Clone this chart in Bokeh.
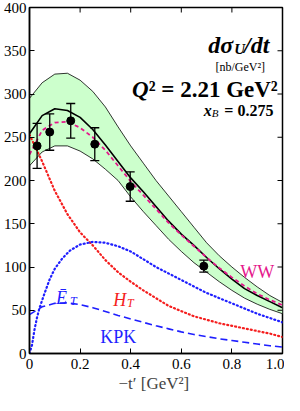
import math
from bokeh.plotting import figure
from bokeh.models import ColumnDataSource, Label, FixedTicker, Range1d
from bokeh.embed import file_html
from bokeh.resources import INLINE

# ---- data ----
t_grid = [0.00, 0.05, 0.10, 0.15, 0.20, 0.25, 0.30, 0.35, 0.40, 0.45, 0.50,
          0.55, 0.60, 0.65, 0.70, 0.75, 0.80, 0.85, 0.90, 0.95, 1.00]
total = [254, 275, 283, 281, 273, 259, 241, 222, 203, 187, 170,
         153, 138, 125, 111, 98, 86, 75, 67, 60, 53]
band_hi = [295, 313, 323, 324, 316, 303, 285, 262, 240, 220, 200,
           182, 164, 146, 128, 113, 100, 88, 77, 67, 59]
band_lo = [217, 233, 240, 240, 234, 225, 213, 200, 181, 164, 148,
           132, 118, 105, 94, 83, 73, 64, 57, 51, 46]
ww = [230, 258, 267, 268, 261, 250, 235, 217, 199, 183, 167,
      151, 137, 124, 111, 99, 88, 78, 69, 62, 56]
h_t = [253, 222, 188, 161, 140, 125, 108, 94, 83, 73, 64,
       55, 49, 43, 39, 35, 32, 29, 26, 23, 19]
kpk = [45, 54, 58, 58.5, 56.5, 53, 48.5, 44, 40, 36, 32,
       28.5, 25, 22, 19.5, 17, 15, 13, 11, 9, 7.5]

t_ebar = [0.0, 0.01, 0.02, 0.03, 0.04, 0.06, 0.08, 0.10, 0.13, 0.16, 0.20,
          0.25, 0.30, 0.35, 0.40, 0.50, 0.60, 0.70, 0.80, 0.90, 1.00]
ebar_t = [0, 10, 28, 42, 53, 70, 86, 98, 110, 119, 126,
          129, 128, 124, 118, 100, 85, 70, 58, 46, 36]

t_data = [0.03, 0.08, 0.163, 0.258, 0.398, 0.689]
sigma_data = [240, 256, 269, 242, 193, 101]
sigma_err = [26, 21, 20, 19, 17, 7]

x_ticks = [0, 0.2, 0.4, 0.6, 0.8, 1.0]
x_tick_labels = ["0", "0.2", "0.4", "0.6", "0.8", "1.0"]
y_ticks = [0, 50, 100, 150, 200, 250, 300, 350, 400]
X_MAX = 1.0
Y_MAX = 400

FONT = "Liberation Serif, serif"
MAGENTA = "#e5198c"
RED = "#f51e1e"
BLUE = "#1f1fff"
GREEN = "#ccffcc"

p = figure(width=284, height=395, x_range=Range1d(0, X_MAX), y_range=Range1d(0, Y_MAX),
           output_backend="svg", toolbar_location=None,
           min_border_left=25, min_border_right=2, min_border_top=7, min_border_bottom=30)
p.grid.grid_line_color = None
p.outline_line_color = "black"
p.outline_line_width = 1.5
p.background_fill_color = "white"
p.border_fill_color = "white"

# band
p.varea(x=t_grid, y1=band_lo, y2=band_hi, fill_color=GREEN, fill_alpha=1.0)
p.line(t_grid, band_hi, line_color="black", line_width=0.8)
p.line(t_grid, band_lo, line_color="black", line_width=0.8)

# components
p.line(t_grid, h_t, line_color=RED, line_width=2.2, line_dash="1 3", line_cap="round")
p.line(t_ebar, ebar_t, line_color=BLUE, line_width=2.2, line_dash="1 3", line_cap="round")
p.line(t_grid, kpk, line_color=BLUE, line_width=1.6, line_dash="7 4")
p.line(t_grid, total, line_color="black", line_width=1.6)
p.line(t_grid, ww, line_color=MAGENTA, line_width=1.8, line_dash="4 3")

# data with error bars
src = ColumnDataSource(dict(x=t_data, y=sigma_data,
                            lo=[v - e for v, e in zip(sigma_data, sigma_err)],
                            hi=[v + e for v, e in zip(sigma_data, sigma_err)]))
p.segment(x0="x", y0="lo", x1="x", y1="hi", source=src, line_color="black", line_width=1.3)
p.scatter(x="x", y="hi", source=src, marker="dash", size=9, line_color="black", line_width=1.3)
p.scatter(x="x", y="lo", source=src, marker="dash", size=9, line_color="black", line_width=1.3)
p.scatter("x", "y", source=src, size=8, color="black")

# mirrored ticks on top and right (half of each dash is clipped by the frame)
p.scatter(x=x_ticks, y=[Y_MAX] * len(x_ticks), marker="dash", angle=math.pi / 2, size=10,
          line_color="black", line_width=1)
p.scatter(x=[X_MAX] * len(y_ticks), y=y_ticks, marker="dash", size=10,
          line_color="black", line_width=1)

# axes
p.xaxis.ticker = FixedTicker(ticks=x_ticks)
p.xaxis.major_label_overrides = {k: v for k, v in zip(x_ticks, x_tick_labels)}
p.yaxis.ticker = FixedTicker(ticks=y_ticks)
for ax in list(p.xaxis) + list(p.yaxis):
    ax.major_tick_in = 5
    ax.major_tick_out = 0
    ax.minor_tick_line_color = None
    ax.axis_line_width = 1.5
    ax.major_tick_line_width = 1
    ax.major_label_text_font = FONT
    ax.major_label_text_font_size = "15px"
    ax.major_label_text_color = "black"
p.xaxis.major_label_standoff = 5
p.yaxis.major_label_standoff = 3
p.xaxis.axis_label = "\u2212t\u2032  [GeV\u00b2]"
p.xaxis.axis_label_text_font = FONT
p.xaxis.axis_label_text_font_size = "17px"
p.xaxis.axis_label_text_font_style = "normal"
p.xaxis.axis_label_standoff = 2


def lab(x, y, text, size, color="black", style="normal", align="left", xo=0):
    p.add_layout(Label(x=x, y=y, text=text, text_font=FONT, text_font_size=f"{size}px",
                       text_color=color, text_font_style=style, text_align=align,
                       text_baseline="alphabetic", x_offset=xo))


# title block
lab(0.805, 357, "d\u03c3", 24, style="bold italic", align="right")
lab(0.805, 352, "U", 15, style="bold italic", align="left", xo=1)
lab(0.848, 357, "/dt", 24, style="bold italic", align="left")
lab(0.833, 331, "[nb/GeV\u00b2]", 12, align="center")
lab(0.471, 305, "Q", 23, style="bold italic", align="right")
lab(0.471, 305, "\u00b2 = 2.21 GeV\u00b2", 23, style="bold", align="left")
lab(0.72, 281, "x", 16, style="bold italic", align="right")
lab(0.72, 277.5, "B", 11, style="italic", align="left")
lab(0.770, 281, "= 0.275", 16, style="bold", align="left")

# curve labels
lab(0.833, 94.6, "WW", 18, color=MAGENTA)
lab(0.105, 64, "\u0112", 18, color=BLUE, style="italic")
lab(0.16, 60.5, "T", 12, color=BLUE, style="italic")
lab(0.331, 62, "H", 18, color=RED, style="italic")
lab(0.385, 58.6, "T", 12, color=RED, style="italic")
lab(0.28, 19, "KPK", 18, color=BLUE)

open("out.html", "w").write(file_html(p, INLINE))
